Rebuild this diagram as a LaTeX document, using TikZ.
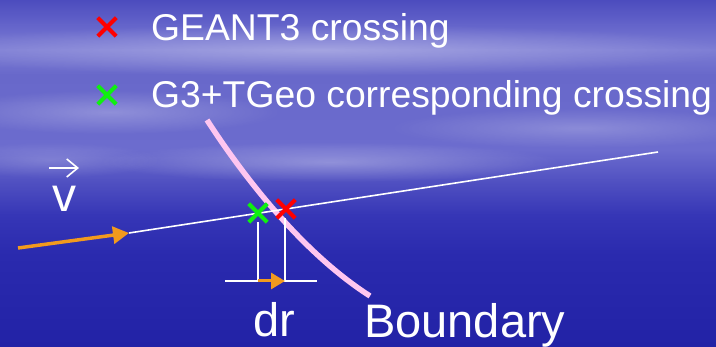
\documentclass[tikz,border=0pt]{standalone}
\usepackage{fontspec}
\setmainfont{Liberation Sans}
\usetikzlibrary{arrows.meta,shapes.misc,fadings}
\definecolor{bgA}{HTML}{4C4CBE}
\definecolor{bgB}{HTML}{6464CA}
\definecolor{bgC}{HTML}{7C7CD4}
\definecolor{bgD}{HTML}{6868CA}
\definecolor{bgE}{HTML}{6A6ACC}
\definecolor{bgF}{HTML}{6C6CCE}
\definecolor{bgG}{HTML}{5252C2}
\definecolor{bgH}{HTML}{3636B6}
\definecolor{bgI}{HTML}{2A2AAE}
\definecolor{bgJ}{HTML}{2222A6}
\definecolor{orng}{HTML}{F29A1E}
\definecolor{pnk}{HTML}{FFC6F0}
\definecolor{grn}{HTML}{10F010}
\definecolor{rd}{HTML}{FF0000}
\tikzfading[name=softfade, inner color=transparent!0, outer color=transparent!100]
\begin{document}
\begin{tikzpicture}[x=1pt,y=-1pt,
  lbl/.style={text=white, inner sep=0pt, font=\fontsize{37.3}{44}\selectfont},
  big/.style={text=white, inner sep=0pt, font=\fontsize{47}{56}\selectfont},
  xmark/.style={cross out, draw=#1, line width=4pt, minimum size=14.5pt, inner sep=0pt},
  oarrow/.style={draw=orng, line width=3.5pt, -{Triangle[length=16pt,width=17pt]}},
  wline/.style={draw=white, line width=1.8pt},
  cloud/.style={fill=white, path fading=softfade}
]
\useasboundingbox (0,0) rectangle (716,347);
% background
\shade[top color=bgA, bottom color=bgB] (0,0) rectangle (716,25);
\shade[top color=bgB, bottom color=bgC] (0,24.5) rectangle (716,50);
\shade[top color=bgC, bottom color=bgD] (0,49.5) rectangle (716,75);
\shade[top color=bgD, bottom color=bgE] (0,74.5) rectangle (716,110);
\shade[top color=bgE, bottom color=bgF] (0,109.5) rectangle (716,150);
\shade[top color=bgF, bottom color=bgG] (0,149.5) rectangle (716,180);
\shade[top color=bgG, bottom color=bgH] (0,179.5) rectangle (716,215);
\shade[top color=bgH, bottom color=bgI] (0,214.5) rectangle (716,255);
\shade[top color=bgI, bottom color=bgJ] (0,254.5) rectangle (716,347);
% soft clouds
\fill[cloud, opacity=0.30] (320,50) ellipse (420 and 26);
\fill[cloud, opacity=0.25] (110,112) ellipse (170 and 22);
\fill[cloud, opacity=0.30] (330,162) ellipse (230 and 20);
\fill[cloud, opacity=0.22] (580,128) ellipse (190 and 20);
\fill[cloud, opacity=0.18] (50,160) ellipse (110 and 18);

% legend
\node[xmark=rd] (lr) at (107,27) {};
\node[lbl, anchor=base west] (t1) at (151,41) {GEANT3 crossing};
\node[xmark=grn] (lg) at (107,95) {};
\node[lbl, anchor=base west] (t2) at (151,108) {G3+TGeo corresponding crossing};

% velocity label
\node[big, anchor=base west, font=\fontsize{48}{56}\selectfont] (v) at (52,212) {v};
\coordinate (va) at (49,168);
\coordinate (vb) at (79,168);
\draw[white, line width=1.6pt, -{Straight Barb[length=11pt,width=18pt]}] (va) -- (vb);

% boundary curve
\coordinate (b0) at (207,120);
\coordinate (b1) at (370,296);
\draw[pnk, line width=5.5pt] (b0) .. controls (238,168) and (298,250) .. (b1);

% trajectory
\coordinate (o1) at (18,248);
\coordinate (o2) at (129,233);
\coordinate (tend) at (658,152);
\draw[wline, line width=1.6pt] (o2) -- (tend);
\draw[oarrow] (o1) -- (o2);

% crossing marks
\node[xmark=grn] (g) at (258,213) {};
\node[xmark=rd] (r) at (286,209) {};

% dr construction
\coordinate (gb) at (258,281);
\coordinate (rb) at (285,281);
\coordinate (hl) at (225,281);
\coordinate (hr) at (317,281);
\draw[wline] (g) -- (gb);
\draw[wline] (r.south -| rb) -- (rb);
\draw[wline] (hl) -- (hr);
\draw[draw=orng, line width=3pt, -{Triangle[length=14pt,width=16pt]}] (gb) -- (rb);

% labels
\node[big, anchor=base west] (dr) at (253,337) {dr};
\node[big, anchor=base west] (bd) at (364,338) {Boundary};
\end{tikzpicture}
\end{document}
